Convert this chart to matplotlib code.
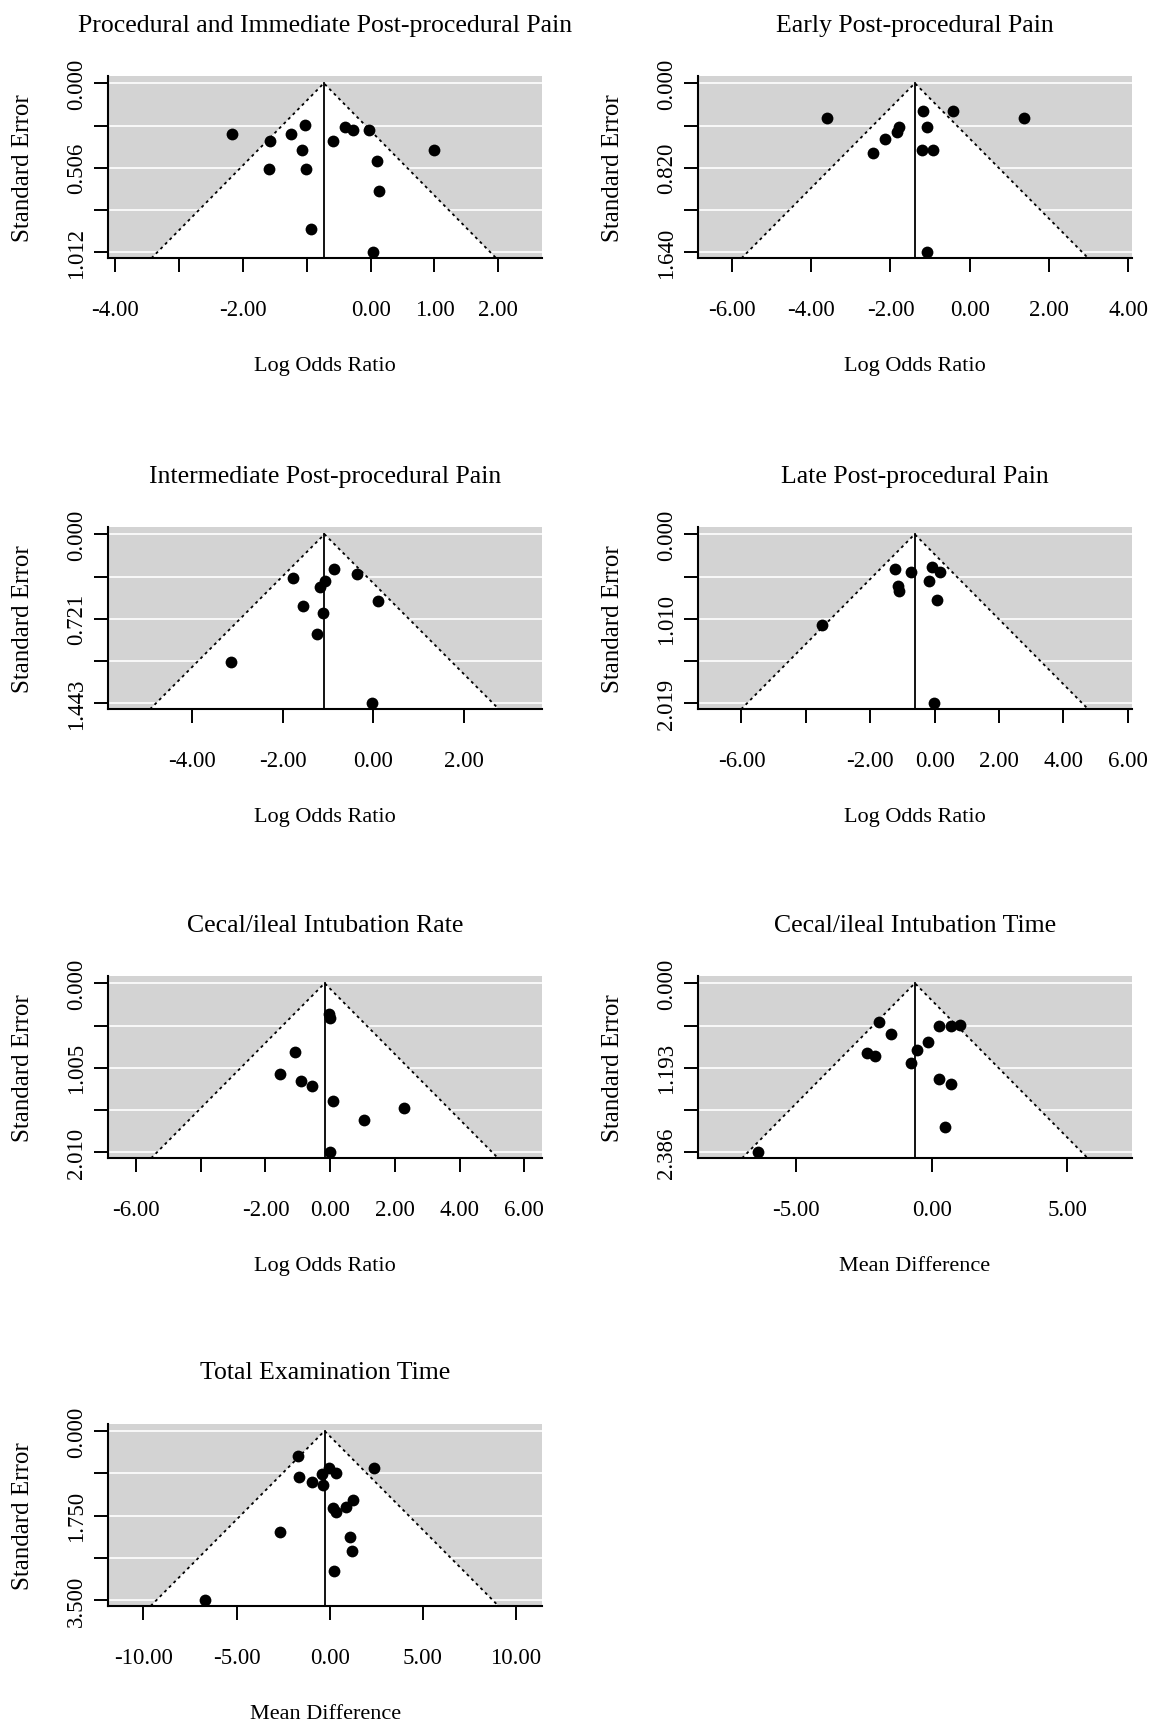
import numpy as np
import matplotlib
matplotlib.use("Agg")
import matplotlib.pyplot as plt
from matplotlib.patches import Polygon
import matplotlib.transforms as mtransforms

plt.rcParams['font.family'] = ['Liberation Serif', 'DejaVu Serif']

# ---------------- data ----------------
titles = [
    "Procedural and Immediate Post-procedural Pain",
    "Early Post-procedural Pain",
    "Intermediate Post-procedural Pain",
    "Late Post-procedural Pain",
    "Cecal/ileal Intubation Rate",
    "Cecal/ileal Intubation Time",
    "Total Examination Time",
]
xlabels = ["Log Odds Ratio", "Log Odds Ratio", "Log Odds Ratio", "Log Odds Ratio",
           "Log Odds Ratio", "Mean Difference", "Mean Difference"]

x1 = [-2.165, -1.570, -1.253, -1.034, -1.068, -1.588, -1.005, -0.935, -0.589, -0.404,
      -0.271, -0.023, 0.987, 0.098, 0.133, 0.040]
se1 = [0.306, 0.348, 0.302, 0.250, 0.402, 0.511, 0.511, 0.875, 0.348, 0.262,
       0.278, 0.278, 0.400, 0.467, 0.644, 1.012]

x2 = [-3.612, -1.168, -0.422, 1.369, -1.793, -1.840, -1.065, -2.129, -2.446, -1.214, -0.925, -1.065]
se2 = [0.338, 0.274, 0.274, 0.338, 0.420, 0.475, 0.425, 0.538, 0.673, 0.651, 0.651, 1.640]

x3 = [-0.873, -0.351, -1.771, -1.061, -1.184, -1.551, -1.102, 0.098, -1.241, -3.143, -0.024]
se3 = [0.300, 0.337, 0.377, 0.400, 0.452, 0.611, 0.674, 0.573, 0.855, 1.092, 1.4428]

x4 = [-1.239, -0.734, -0.069, 0.161, -0.184, -1.124, -1.101, 0.080, -3.487, -0.034]
se4 = [0.419, 0.447, 0.387, 0.447, 0.560, 0.621, 0.681, 0.790, 1.084, 2.0192]

x5 = [-0.034, 0.000, -1.097, -1.554, -0.891, -0.571, 0.080, 2.286, 1.051, 0.000]
se5 = [0.365, 0.416, 0.813, 1.079, 1.158, 1.225, 1.404, 1.487, 1.626, 2.010]

x6 = [-1.939, -1.503, -2.388, -2.075, -0.755, -0.551, -0.143, 0.279, 0.714, 1.027,
      0.279, 0.714, 0.483, -6.388]
se6 = [0.551, 0.715, 0.988, 1.031, 1.125, 0.941, 0.833, 0.607, 0.607, 0.584,
       1.351, 1.421, 2.033, 2.386]

x7 = [-1.718, 2.393, -0.030, 0.328, -0.427, -1.619, -0.963, -0.367, 1.261, 0.864,
      0.169, 0.328, -2.671, 1.102, 1.221, 0.228, -6.683]
se7 = [0.526, 0.768, 0.775, 0.871, 0.892, 0.961, 1.051, 1.120, 1.432, 1.584,
       1.604, 1.687, 2.089, 2.192, 2.483, 2.898, 3.500]

effects = [x1, x2, x3, x4, x5, x6, x7]
ses = [se1, se2, se3, se4, se5, se6, se7]
pooled = [-0.733, -1.383, -1.078, -0.620, -0.171, -0.619, -0.268]
funnel_z = 2.58

xlims = [(-4.11, 2.69), (-6.86, 4.10), (-5.85, 3.73), (-7.35, 6.13),
         (-6.86, 6.56), (-8.61, 7.38), (-11.89, 11.43)]
xticks = [[-4, -3, -2, -1, 0, 1, 2],
          [-6, -4, -2, 0, 2, 4],
          [-4, -2, 0, 2],
          [-6, -4, -2, 0, 2, 4, 6],
          [-6, -4, -2, 0, 2, 4, 6],
          [-5, 0, 5],
          [-10, -5, 0, 5, 10]]
xticklabels = [["-4.00", "", "-2.00", "", "0.00", "1.00", "2.00"],
               ["-6.00", "-4.00", "-2.00", "0.00", "2.00", "4.00"],
               ["-4.00", "-2.00", "0.00", "2.00"],
               ["-6.00", "", "-2.00", "0.00", "2.00", "4.00", "6.00"],
               ["-6.00", "", "-2.00", "0.00", "2.00", "4.00", "6.00"],
               ["-5.00", "0.00", "5.00"],
               ["-10.00", "-5.00", "0.00", "5.00", "10.00"]]

# ---------------- layout ----------------
W, H = 1152, 1724
fig = plt.figure(figsize=(W / 100, H / 100), dpi=100)

col_left = [108.3, 698.0]
ax_w = 434.0
row_top = [77.3, 528.3, 977.3, 1425.0]
ax_h = 182.0

GRAY = '#d3d3d3'


def off(ax, dx, dy):
    return mtransforms.offset_copy(ax.transAxes, fig=fig, x=dx, y=dy, units='dots')


for i in range(7):
    r, c = divmod(i, 2)
    l = col_left[c]
    t = row_top[r]
    ax = fig.add_axes([l / W, 1 - (t + ax_h) / H, ax_w / W, ax_h / H])
    x = np.array(effects[i])
    se = np.array(ses[i])
    m = se.max()
    est = pooled[i]
    top = -0.041 * m
    bot = 1.035 * m
    ax.set_xlim(*xlims[i])
    ax.set_ylim(bot, top)
    ax.set_facecolor(GRAY)

    yt = np.linspace(0, m, 5)
    for v in yt:
        ax.axhline(v, color='white', lw=1.2, zorder=1)

    lo = est - funnel_z * bot
    hi = est + funnel_z * bot
    ax.add_patch(Polygon([[lo, bot], [est, 0], [hi, bot]], closed=True,
                         fc='white', ec='none', zorder=2))
    ax.plot([lo, est, hi], [bot, 0, bot], color='black', lw=1.3,
            ls=(0, (1.6, 2.0)), zorder=3)
    ax.plot([est, est], [0, bot], color='black', lw=1.3, zorder=3)
    ax.plot(x, se, 'o', color='black', ms=8.5, mew=0, zorder=4)

    for s in ['top', 'right']:
        ax.spines[s].set_visible(False)
    for s in ['left', 'bottom']:
        ax.spines[s].set_linewidth(1.5)

    # ticks
    ax.set_xticks(xticks[i])
    ax.set_xticklabels([])
    ax.set_yticks(yt)
    ax.set_yticklabels([])
    ax.tick_params(axis='both', direction='out', length=10, width=1.4)

    xtr = mtransforms.blended_transform_factory(ax.transData, ax.transAxes)
    xtr = xtr + mtransforms.ScaledTranslation(0, -57 / 100, fig.dpi_scale_trans)
    for tv, tl in zip(xticks[i], xticklabels[i]):
        if tl:
            ax.text(tv, 0, tl, transform=xtr, ha='center', va='baseline',
                    fontsize=16.5, clip_on=False)

    ytr = mtransforms.blended_transform_factory(ax.transAxes, ax.transData)
    ytr = ytr + mtransforms.ScaledTranslation(-26 / 100, 0, fig.dpi_scale_trans)
    ylbls = ["%.3f" % v for v in yt]
    for k, (tv, tl) in enumerate(zip(yt, ylbls)):
        if k in (0, 2, 4):
            ax.text(0, tv, tl, transform=ytr, rotation=90, rotation_mode='anchor',
                    ha='center', va='baseline', fontsize=16.5, clip_on=False)

    # title
    ax.text(0.5, 1, titles[i], transform=off(ax, 0, 45.6), ha='center',
            va='baseline', fontsize=18.5)
    # x label
    ax.text(0.5, 0, xlabels[i], transform=off(ax, 0, -112), ha='center',
            va='baseline', fontsize=16)
    # y label
    ax.text(0, 0.5, "Standard Error", transform=off(ax, -79, 0), rotation=90,
            rotation_mode='anchor', ha='center', va='baseline', fontsize=18)

fig.savefig("out.png", dpi=100)
